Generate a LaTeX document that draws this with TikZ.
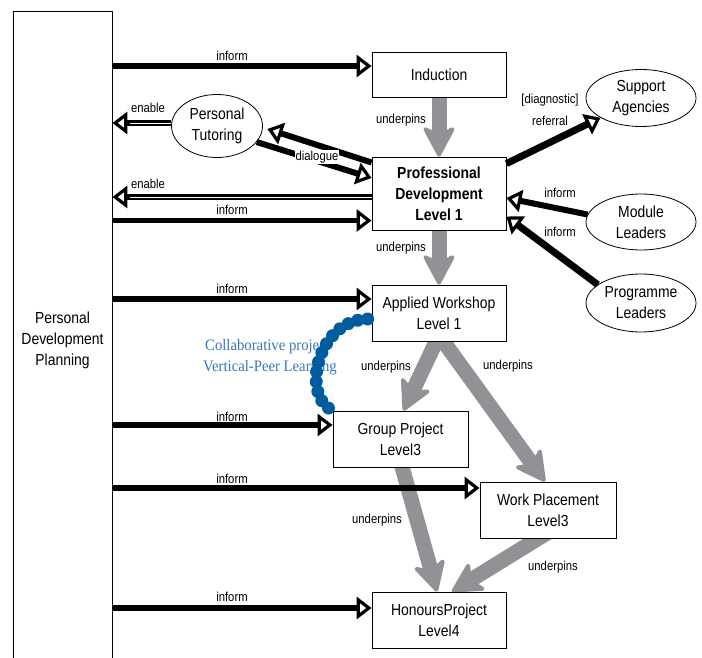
\documentclass[tikz,border=0pt]{standalone}
\usepackage{fontspec}
\setmainfont{Liberation Sans}[FakeStretch=0.87]
\newfontfamily\bluefont{Liberation Serif}[FakeStretch=0.92]
\usetikzlibrary{arrows.meta,shapes.geometric,backgrounds}
\definecolor{undergray}{RGB}{146,146,150}
\definecolor{dotblue}{RGB}{0,92,158}
\definecolor{txtblue}{RGB}{55,118,185}
\tikzset{
 box/.style={draw, line width=0.8pt, fill=white, inner sep=0pt, align=center, font={\fontsize{16}{21}\selectfont}},
 oval/.style={draw, ellipse, line width=0.8pt, fill=white, inner sep=0pt, align=center, minimum width=110pt, font={\fontsize{16}{21}\selectfont}},
 lbl/.style={inner sep=0.5pt, font={\fontsize{13}{16}\selectfont}},
 opentip/.tip={Triangle[open, length=15pt, width=22pt, line width=3.2pt]},
 inform/.style={line width=5.5pt, -opentip},
 enable/.style={line width=5.5pt, -opentip, postaction={draw=white, line width=0.7pt, -, shorten >=18pt}},
 blkarrow/.style={line width=6pt, -opentip},
 underpin/.style={draw=undergray, line width=15pt, -{Stealth[length=34pt, width=36pt, inset=9pt, round, line width=4pt]}},
}
\begin{document}
\begin{tikzpicture}[x=1pt, y=-1pt]
\useasboundingbox (0,0) rectangle (702,658);

% boxes
\node[box, minimum width=99pt, minimum height=659pt] (pdp) at (62.5,340.5) {Personal\\Development\\Planning};
\node[box, minimum width=134pt, minimum height=45pt] (ind) at (439,74.5) {Induction};
\node[box, minimum width=134pt, minimum height=73pt, font={\fontsize{16}{21}\selectfont\bfseries}] (pd) at (439,193.5) {Professional\\Development\\Level 1};
\node[box, minimum width=134pt, minimum height=56pt] (aw) at (439,313) {Applied Workshop\\Level 1};
\node[box, minimum width=135pt, minimum height=56pt] (gp) at (400.5,439) {Group Project\\Level3};
\node[box, minimum width=136pt, minimum height=56pt] (wp) at (548,510) {Work Placement\\Level3};
\node[box, minimum width=134pt, minimum height=56pt] (hp) at (439,620) {HonoursProject\\Level4};

% ellipses
\node[oval, minimum width=91pt, minimum height=63pt] (pt) at (217,126) {Personal\\Tutoring};
\node[oval, minimum height=57pt] (sa) at (641,98) {Support\\Agencies};
\node[oval, minimum height=56pt] (ml) at (641,222) {Module\\Leaders};
\node[oval, minimum height=58pt] (pl) at (641,303) {Programme\\Leaders};

% underpins (grey, behind boxes)
\begin{scope}[on background layer]
\draw[underpin] ([yshift=3pt]ind.south) -- (pd.north);
\draw[underpin] ([yshift=3pt]pd.south) -- (aw.north);
\draw[underpin] ([yshift=6pt]aw.south) -- ([xshift=3pt]gp.north);
\draw[underpin] ([yshift=6pt]aw.south) -- ([xshift=-3pt]wp.north);
\draw[underpin] ([yshift=6pt]gp.south) -- ([xshift=-2pt]hp.north);
\draw[underpin] ([yshift=6pt]wp.south) -- ([xshift=13pt]hp.north);
\end{scope}
\node[lbl] (u1) at (401,120) {underpins};
\node[lbl] (u2) at (401,248) {underpins};
\node[lbl] (u3) at (386,367) {underpins};
\node[lbl] (u4) at (508,366) {underpins};
\node[lbl] (u5) at (377,520) {underpins};
\node[lbl] (u6) at (553,567) {underpins};

% inform / enable arrows from and to the PDP column
\coordinate (indin) at ([yshift=8.5pt]ind.west);
\coordinate (ptout) at ([yshift=3pt]pt.west);
\coordinate (pdout) at ([yshift=-3.5pt]pd.west);
\coordinate (pdin) at ([yshift=-27pt]pd.west);
\coordinate (awin) at ([yshift=14pt]aw.west);
\coordinate (gpin) at ([yshift=14pt]gp.west);
\coordinate (wpin) at ([yshift=22pt]wp.west);
\coordinate (hpin) at ([yshift=12pt]hp.west);

\draw[inform] (pdp.east |- indin) -- (indin);
\draw[enable] (ptout) -- (pdp.east |- ptout);
\draw[enable] (pdout) -- (pdp.east |- pdout);
\draw[inform] (pdp.east |- pdin) -- (pdin);
\draw[inform] (pdp.east |- awin) -- (awin);
\draw[inform] (pdp.east |- gpin) -- (gpin);
\draw[inform] (pdp.east |- wpin) -- (wpin);
\draw[inform] (pdp.east |- hpin) -- (hpin);

\node[lbl] (l1) at (232,56) {inform};
\node[lbl] (l2) at (148,108) {enable};
\node[lbl] (l3) at (148,184) {enable};
\node[lbl] (l4) at (232,210) {inform};
\node[lbl] (l5) at (232,289) {inform};
\node[lbl] (l6) at (232,417) {inform};
\node[lbl] (l7) at (232,479) {inform};
\node[lbl] (l8) at (232,597) {inform};

% dialogue
\draw[blkarrow] ([yshift=31pt]pd.west) -- ([xshift=4.5pt,yshift=-3pt]pt.east);
\draw[blkarrow] (pt.-22) -- ([yshift=15.5pt]pd.west);
\node[lbl, fill=white] (dl) at (317,157) {dialogue};

% referral and leaders
\draw[blkarrow, line width=7pt] ([yshift=-7pt]pd.north east) -- (sa.206);
\node[lbl] (r1) at (550,100) {[diagnostic]};
\node[lbl] (r2) at (550,121) {referral};
\draw[blkarrow] (ml.172) -- ([yshift=-4.5pt]pd.east);
\node[lbl] (m1) at (560,193) {inform};
\draw[blkarrow, line width=7pt] (pl.157) -- ([yshift=-23pt]pd.east);
\node[lbl] (m2) at (560,232) {inform};

% collaborative project
\node[anchor=west, inner sep=0pt, text=txtblue, font={\bluefont\fontsize{16}{18}\selectfont}] (c1) at (205,347) {Collaborative project};
\node[anchor=west, inner sep=0pt, text=txtblue, font={\bluefont\fontsize{16}{18}\selectfont}] (c2) at (203,368) {Vertical-Peer Learning};
\draw[dotblue, line width=13pt, line cap=round, dash pattern=on 0pt off 10pt] ([xshift=-4pt,yshift=-6pt]aw.west) .. controls (318,320) and (300,395) .. (gp.north west);
\end{tikzpicture}
\end{document}
